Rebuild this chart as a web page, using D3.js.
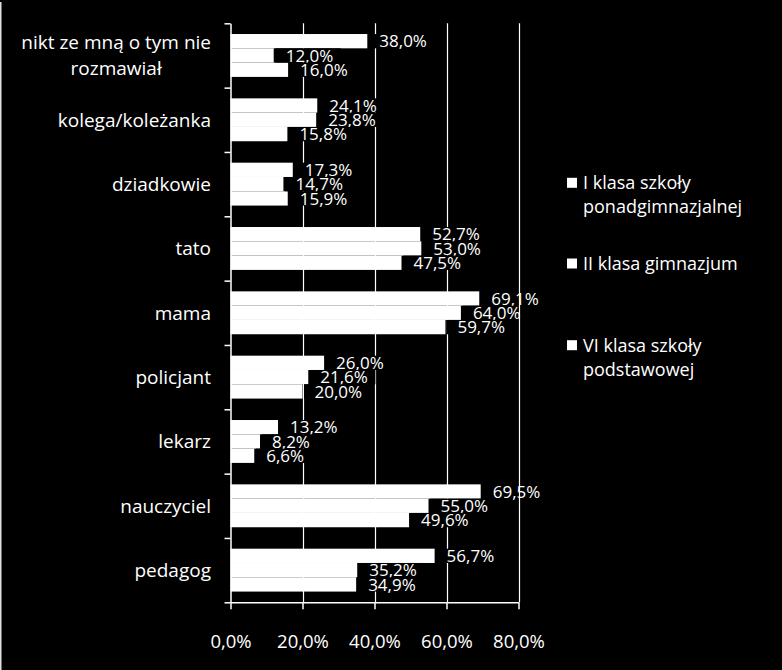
<!DOCTYPE html>
<html><head><meta charset="utf-8">
<script src="https://cdn.jsdelivr.net/npm/d3@7"></script>
<style>
html,body{margin:0;padding:0;background:#000;}
svg{display:block;}
text{font-family:"Open Sans",Lato,sans-serif;fill:#fff;}
</style></head>
<body>
<svg id="c" width="782" height="670"></svg>
<script>
const categories = ["nikt ze mną o tym nie rozmawiał","kolega/koleżanka","dziadkowie","tato","mama","policjant","lekarz","nauczyciel","pedagog"];
const categoryLines = [["nikt ze mną o tym nie","rozmawiał"],["kolega/koleżanka"],["dziadkowie"],["tato"],["mama"],["policjant"],["lekarz"],["nauczyciel"],["pedagog"]];
const series = ["I klasa szkoły ponadgimnazjalnej","II klasa gimnazjum","VI klasa szkoły podstawowej"];
const seriesLines = [["I klasa szkoły","ponadgimnazjalnej"],["II klasa gimnazjum"],["VI klasa szkoły","podstawowej"]];
const sI  = [38.0,24.1,17.3,52.7,69.1,26.0,13.2,69.5,56.7];
const sII = [12.0,23.8,14.7,53.0,64.0,21.6,8.2,55.0,35.2];
const sVI = [16.0,15.8,15.9,47.5,59.7,20.0,6.6,49.6,34.9];
const xTicks = [0,20,40,60,80];

const values = [sI,sII,sVI];
const loc = d3.formatLocale({decimal:",",thousands:" ",grouping:[3],currency:["","zł"]});
const fmt = d => loc.format(".1f")(d) + "%";

const svg = d3.select("#c");
const L = 230.5, R = 518.5, T = 23.3, B = 602.3;
const x = d3.scaleLinear().domain([0,80]).range([L,R]);
const y = d3.scaleBand().domain(categories).range([T,B]).padding(0);
const step = y.bandwidth();
const sub = d3.scaleBand().domain(series).range([step/6, step*5/6]).padding(0);

// left border line
svg.append("rect").attr("x",0).attr("y",2).attr("width",1.5).attr("height",668).attr("fill","#e0e0e0");

// gridlines
svg.append("g").selectAll("line").data(xTicks.filter(t=>t>0 && t<80)).join("line")
  .attr("x1",d=>Math.round(x(d))+0.5).attr("x2",d=>Math.round(x(d))+0.5)
  .attr("y1",T).attr("y2",B).attr("stroke","#fff").attr("stroke-width",1.2);

// bars
const flat = [];
categories.forEach((c,i)=>series.forEach((s,j)=>flat.push({c,s,v:values[j][i]})));
svg.append("g").selectAll("rect").data(flat).join("rect")
  .attr("x",x(0)).attr("y",d=>y(d.c)+sub(d.s))
  .attr("width",d=>x(d.v)-x(0)).attr("height",sub.bandwidth())
  .attr("fill","#fff");

// labels
const lg = svg.append("g");
flat.forEach(d=>{
  const cy = y(d.c)+sub(d.s)+sub.bandwidth()/2;
  const bg = lg.append("rect");
  const t = lg.append("text").attr("x",x(d.v)+12).attr("y",cy).attr("dy","0.36em")
    .style("font-size","17px").text(fmt(d.v));
  const w = t.node().getComputedTextLength();
  bg.attr("x",x(d.v)+1.5).attr("y",y(d.c)+sub(d.s)).attr("width",w+18).attr("height",sub.bandwidth()).attr("fill","#000");
});

// 80% gridline on top
svg.append("line").attr("x1",Math.round(x(80))+0.5).attr("x2",Math.round(x(80))+0.5)
  .attr("y1",T).attr("y2",B).attr("stroke","#fff").attr("stroke-width",1.2);

// y axis (category boundaries)
const yb = d3.scaleLinear().domain([0,categories.length]).range([T,B]);
const ya = svg.append("g").attr("transform",`translate(${L},0)`)
  .call(d3.axisLeft(yb).tickValues(d3.range(categories.length+1)).tickSize(6).tickSizeOuter(0).tickFormat(""));
ya.selectAll("line,path").attr("stroke","#fff").attr("stroke-width",1.5);

// x axis
const xa = svg.append("g").attr("transform",`translate(0,${B})`)
  .call(d3.axisBottom(x).tickValues(xTicks).tickSize(7).tickSizeOuter(0).tickPadding(26).tickFormat(fmt));
xa.selectAll("line,path").attr("stroke","#fff").attr("stroke-width",1.5);
xa.selectAll("text").attr("fill","#fff").style("font-size","18.5px").style("font-family","Open Sans");

// category labels
categoryLines.forEach((lines,i)=>{
  const c = categories[i];
  const cy = y(c)+step/2;
  const g = svg.append("g");
  const lh = 25.7;
  const ts = lines.map((ln,k)=>g.append("text").attr("y",cy+(k-(lines.length-1)/2)*lh).attr("dy","0.36em")
     .style("font-size","19px").text(ln));
  const maxW = d3.max(ts,t=>t.node().getComputedTextLength());
  const right = 211;
  ts.forEach(t=>t.attr("x",right-maxW/2).attr("text-anchor","middle"));
});

// legend
const legY = [[189.3,213.3],[270],[351.7,375.7]];
seriesLines.forEach((lines,j)=>{
  const g = svg.append("g");
  g.append("rect").attr("x",567).attr("y",legY[j][0]-11.5).attr("width",10).attr("height",10).attr("fill","#fff");
  lines.forEach((ln,k)=>g.append("text").attr("x",583).attr("y",legY[j][k]).style("font-size","18px").text(ln));
});
</script>
</body></html>
